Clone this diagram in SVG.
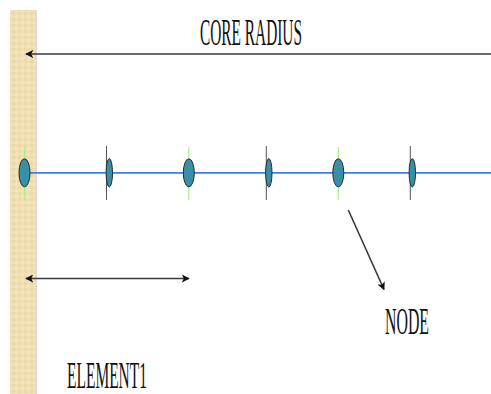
<svg xmlns="http://www.w3.org/2000/svg" width="491" height="394" viewBox="0 0 491 394">
  <style>
    .lbl { font-family: "Liberation Serif", "Times New Roman", serif; font-size: 38px; fill: #111; }
    .dim { stroke: #3a3a3a; stroke-width: 1.6; fill: none; }
    .big { fill: #3a8ea6; stroke: #2a2a2a; stroke-width: 1; }
    .small { fill: #3a8ea6; stroke: #2a2a2a; stroke-width: 1; }
    .guide-g { stroke: #a8f08a; stroke-width: 1.2; }
    .guide-k { stroke: #555; stroke-width: 1; }
  </style>
  <defs>
    <pattern id="weave" width="6" height="6" patternUnits="userSpaceOnUse">
      <rect width="6" height="6" fill="#f0dfb4"/>
      <rect x="0" y="0" width="3" height="3" fill="#ecd9aa"/>
      <rect x="3" y="3" width="3" height="3" fill="#f3e4bf"/>
    </pattern>
    <marker id="tip" viewBox="0 0 10 10" refX="9" refY="5" markerWidth="8" markerHeight="8" markerUnits="userSpaceOnUse" orient="auto-start-reverse">
      <path d="M0,0 L10,5 L0,10 L2.5,5 z" fill="#111"/>
    </marker>
  </defs>
  <rect width="491" height="394" fill="#fff"/>

  <!-- fixed support wall -->
  <g id="wall">
    <rect x="35" y="10" width="2" height="384" fill="#dcdcdc"/>
    <rect x="10" y="10" width="25" height="384" fill="url(#weave)"/>
  </g>

  <!-- beam axis and dimension arrows -->
  <g id="connectors">
    <line x1="25" y1="172.8" x2="491" y2="172.8" stroke="#3d7fe6" stroke-width="1.8"/>
    <line class="dim" x1="491" y1="54" x2="26" y2="54" marker-end="url(#tip)"/>
    <line class="dim" x1="26" y1="278.5" x2="189" y2="278.5" marker-start="url(#tip)" marker-end="url(#tip)"/>
    <line class="dim" x1="348.3" y1="210" x2="384" y2="289.5" stroke-width="1.3" marker-end="url(#tip)"/>
  </g>

  <!-- element boundaries -->
  <g id="n1">
    <line class="guide-g" x1="24.5" y1="147" x2="24.5" y2="200"/>
    <ellipse class="big" cx="24.5" cy="172.8" rx="5.5" ry="14"/>
  </g>
  <g id="n2">
    <line class="guide-k" x1="106.5" y1="146" x2="106.5" y2="200"/>
    <ellipse class="small" cx="109.3" cy="172.8" rx="3.2" ry="14.2"/>
  </g>
  <g id="n3">
    <line class="guide-g" x1="188.8" y1="147" x2="188.8" y2="200"/>
    <ellipse class="big" cx="188.8" cy="172.8" rx="5.5" ry="14"/>
  </g>
  <g id="n4">
    <line class="guide-k" x1="266.3" y1="146" x2="266.3" y2="200"/>
    <ellipse class="small" cx="268.8" cy="172.8" rx="3.2" ry="14.2"/>
  </g>
  <g id="n5">
    <line class="guide-g" x1="338.3" y1="147" x2="338.3" y2="200"/>
    <ellipse class="big" cx="338.3" cy="172.8" rx="5.5" ry="14"/>
  </g>
  <g id="n6">
    <line class="guide-k" x1="410.3" y1="146" x2="410.3" y2="200"/>
    <ellipse class="small" cx="412.3" cy="172.8" rx="3.2" ry="14.2"/>
  </g>

  <!-- labels -->
  <g id="labels">
    <text class="lbl" x="200" y="45" textLength="102" lengthAdjust="spacingAndGlyphs">CORE RADIUS</text>
    <text class="lbl" x="385" y="334" textLength="44" lengthAdjust="spacingAndGlyphs">NODE</text>
    <text class="lbl" x="67" y="388" font-size="36" textLength="80" lengthAdjust="spacingAndGlyphs">ELEMENT1</text>
  </g>
</svg>
